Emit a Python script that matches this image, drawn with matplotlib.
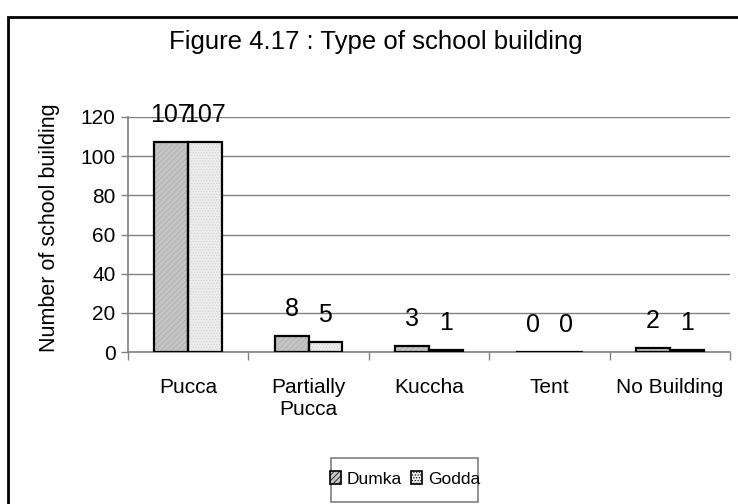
import matplotlib
matplotlib.use('Agg')
import matplotlib.pyplot as plt
import numpy as np
from matplotlib.patches import Rectangle

# --- data ---
categories = ['Pucca', 'Partially\nPucca', 'Kuccha', 'Tent', 'No Building']
dumka = [107, 8, 3, 0, 2]
godda = [107, 5, 1, 0, 1]
series_names = ['Dumka', 'Godda']

plt.rcParams['font.family'] = ['Liberation Sans', 'DejaVu Sans']
plt.rcParams['hatch.linewidth'] = 0.5

fig = plt.figure(figsize=(7.38, 5.04), dpi=100)
ax = fig.add_axes([128 / 738, 1 - 352 / 504, (730 - 128) / 738, (352 - 117) / 504])

x = np.arange(len(categories))
w = 0.28

# hatched fill first, black outline on top
b1 = ax.bar(x - w / 2, dumka, w, color='#c4c4c4', hatch='//////', edgecolor='#ababab', lw=0, zorder=3)
b2 = ax.bar(x + w / 2, godda, w, color='#ececec', hatch='......', edgecolor='#d2d2d2', lw=0, zorder=3)
ax.bar(x - w / 2, dumka, w, facecolor='none', edgecolor='black', lw=1.6, zorder=4)
ax.bar(x + w / 2, godda, w, facecolor='none', edgecolor='black', lw=1.6, zorder=4)

# value labels (the two 107s touch, as in the original)
for xs, vals in ((x - w / 2, dumka), (x + w / 2, godda)):
    for xi, v in zip(xs, vals):
        ax.annotate(str(v), (xi, v), xytext=(0, 14.5), textcoords='offset points',
                    ha='center', va='baseline', fontsize=18, zorder=5, annotation_clip=False)

ax.set_xlim(-0.5, len(categories) - 0.5)
ax.set_ylim(0, 120)
ax.set_yticks(np.arange(0, 121, 20))
ax.yaxis.grid(True, color='#808080', lw=1.0, zorder=0)
ax.set_axisbelow(True)

ax.set_xticks(np.arange(-0.5, len(categories), 1.0))
ax.set_xticklabels([])
ax.set_xticks(x, minor=True)
ax.set_xticklabels(categories, minor=True, fontsize=15, linespacing=1.2)
ax.tick_params(axis='x', which='minor', length=0, pad=19)
ax.tick_params(axis='x', which='major', length=6, color='#808080', width=1)
ax.tick_params(axis='y', length=5, color='#808080', width=1, labelsize=15, pad=4)

for s in ('top', 'right'):
    ax.spines[s].set_visible(False)
for s in ('left', 'bottom'):
    ax.spines[s].set_color('#808080')
    ax.spines[s].set_linewidth(1.2)

fig.text(50 / 738, 1 - 228 / 504, 'Number of school building', rotation=90,
         ha='center', va='center', fontsize=15.5)
fig.text(376 / 738, 1 - 42 / 504, 'Figure 4.17 : Type of school building',
         ha='center', va='center', fontsize=18.5)

leg = fig.legend([b1, b2], series_names, loc='center', bbox_to_anchor=(405 / 738, 1 - 479 / 504),
                 ncol=2, fontsize=12.5, frameon=False, handlelength=0.65,
                 handleheight=0.75, handletextpad=0.35, columnspacing=0.5,
                 borderpad=0.1, borderaxespad=0)
for h in leg.legend_handles:
    h.set_edgecolor('black')
    h.set_linewidth(1.2)

# legend box, taller than the text as in the original
fig.patches.append(Rectangle((331 / 738, 1 - 502 / 504), 147 / 738, 44 / 504, transform=fig.transFigure,
                             fill=False, edgecolor='#808080', lw=1.2))

# outer chart frame (runs off the right and bottom edges)
fig.patches.append(Rectangle((8 / 738, -0.1), 1.0, 1.1 - 17 / 504, transform=fig.transFigure,
                             fill=False, edgecolor='black', lw=2))

fig.savefig('out.png', dpi=100)
